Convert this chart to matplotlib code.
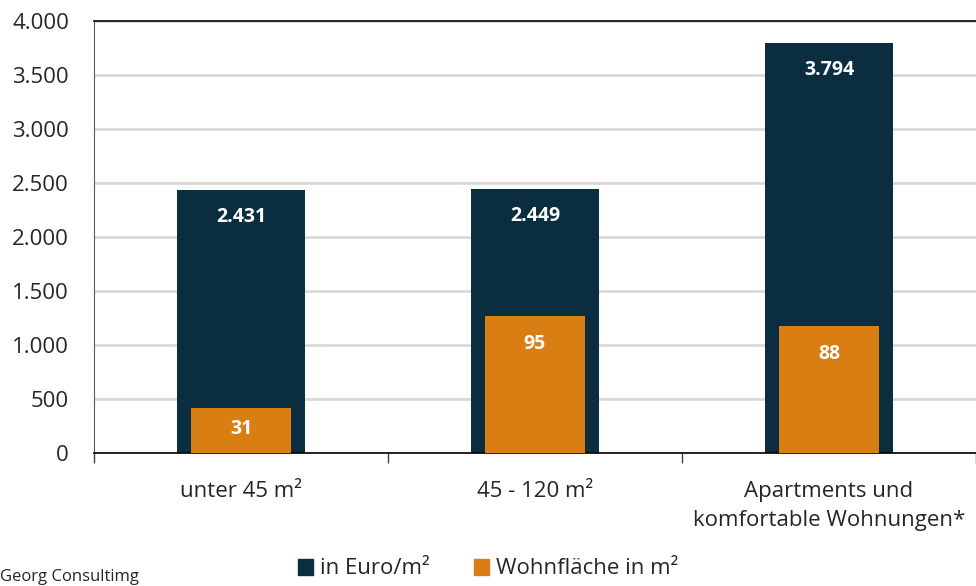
import matplotlib
matplotlib.use("Agg")
import matplotlib.pyplot as plt
from matplotlib.patches import Patch
from matplotlib.ticker import FuncFormatter, FixedLocator

categories = ["unter 45 m²", "45 - 120 m²", "Apartments und\nkomfortable Wohnungen*"]
euro_per_m2 = [2431, 2449, 3794]
wohnflaeche = [31, 95, 88]
y_ticks = [0, 500, 1000, 1500, 2000, 2500, 3000, 3500, 4000]

dark = "#0A2D3F"
orange = "#D97E12"
font = ["Open Sans", "DejaVu Sans"]
plt.rcParams["font.family"] = font

fig = plt.figure(figsize=(9.76, 5.86), dpi=100)
ax = fig.add_axes([94/976, 133/586, 882/976, 432/586])
ax2 = ax.twinx()

x = list(range(len(categories)))
ax.bar(x, euro_per_m2, width=0.435, color=dark, zorder=2)
ax2.bar(x, wohnflaeche, width=0.337, color=orange, zorder=3)

ax.set_xlim(-0.5, 2.5)
ax.set_ylim(0, 4000)
ax2.set_ylim(0, 300)
ax.set_yticks(y_ticks)
ax.yaxis.set_major_formatter(FuncFormatter(lambda v, p: f"{int(v):,}".replace(",", ".")))
ax.grid(axis="y", color="#D9D9D9", linewidth=2, zorder=0)
ax.set_axisbelow(True)
ax.tick_params(axis="y", length=0, pad=18, labelsize=16, labelcolor="#262626")

ax.set_xticks(x)
ax.set_xticklabels(categories, fontsize=16, color="#262626", linespacing=1.5)
ax.tick_params(axis="x", which="major", length=0, pad=20)
ax.xaxis.set_minor_locator(FixedLocator([-0.5, 0.5, 1.5, 2.5]))
ax.tick_params(axis="x", which="minor", length=7, width=1, color="#404040")

for s in ["top", "bottom"]:
    ax.spines[s].set_color("black")
    ax.spines[s].set_linewidth(1.2)
ax.spines["left"].set_color("#595959")
ax.spines["right"].set_visible(False)
ax2.axis("off")

# labels
for xi, v in zip(x, euro_per_m2):
    ax.annotate(f"{v:,}".replace(",", "."), (xi, v), xytext=(0, -27 * 0.72),
                textcoords="offset points", ha="center", va="center",
                color="white", fontsize=14, fontweight="bold", zorder=5)
for xi, v in zip(x, wohnflaeche):
    hpx = v / 300 * 432
    off = min(28, hpx / 2 - 2)
    ax2.annotate(str(v), (xi, v), xytext=(0, -off * 0.72),
                 textcoords="offset points", ha="center", va="center",
                 color="white", fontsize=14, fontweight="bold", zorder=5)

handles = [Patch(color=dark, label="in Euro/m²"), Patch(color=orange, label="Wohnfläche in m²")]
fig.legend(handles=handles, loc="center", bbox_to_anchor=(0.5, 17/586), ncol=2,
           frameon=False, fontsize=16, handlelength=0.7, handleheight=0.7,
           handletextpad=0.3, columnspacing=2.0, labelcolor="#262626",
           borderaxespad=0, borderpad=0)

fig.text(0.0, 9/586, "Georg Consultimg", fontsize=12, color="#262626", ha="left", va="center")

fig.savefig("out.png", dpi=100)
